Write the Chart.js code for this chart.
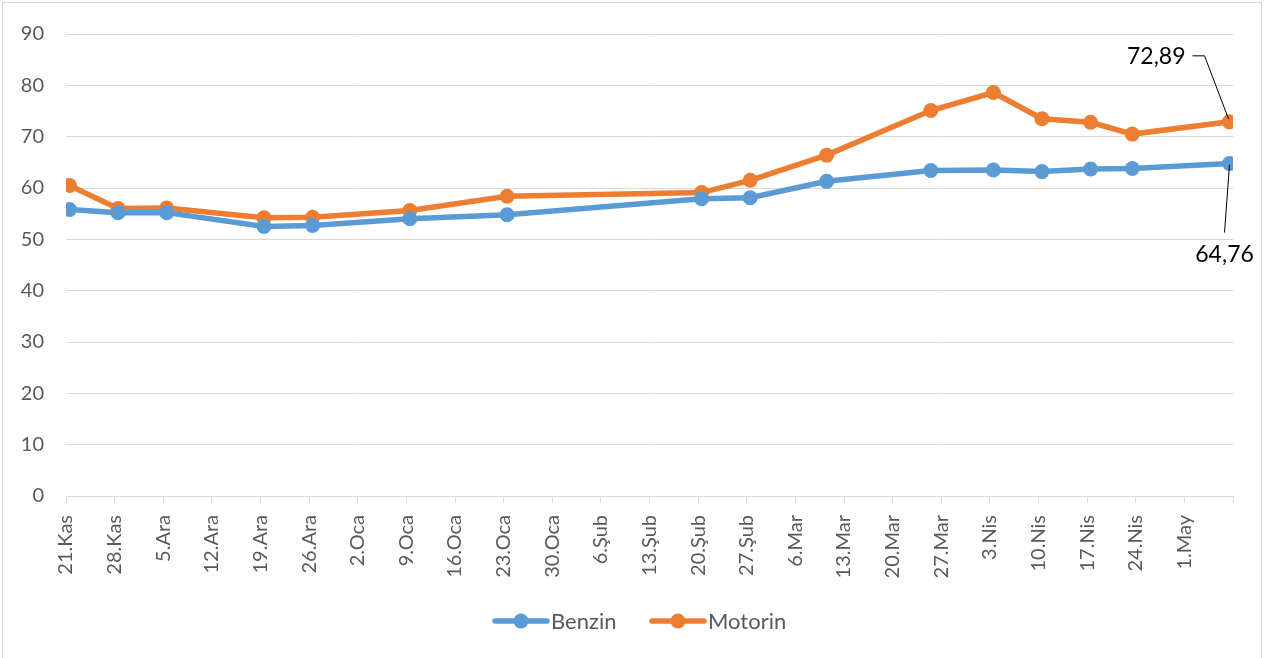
<!DOCTYPE html>
<html>
<head>
<meta charset="utf-8">
<script src="https://cdn.jsdelivr.net/npm/chart.js@4.4.1/dist/chart.umd.min.js"></script>
<style>
  html, body { margin: 0; padding: 0; background: #fff; }
  #wrap { position: relative; width: 1274px; height: 658px; }
  #frame { position: absolute; left: 2px; top: 2px; width: 1260px; height: 660px; border: 1px solid #d9d9d9; box-sizing: border-box; }
  canvas { position: absolute; left: 0; top: 0; }
</style>
</head>
<body>
<div id="wrap"><div id="frame"></div><canvas id="c" width="1274" height="658"></canvas></div>
<script>
// Week tick labels (every 7 days starting at 21.Kas = day 0)
const tickLabels = ["21.Kas","28.Kas","5.Ara","12.Ara","19.Ara","26.Ara","2.Oca","9.Oca","16.Oca","23.Oca","30.Oca","6.Şub","13.Şub","20.Şub","27.Şub","6.Mar","13.Mar","20.Mar","27.Mar","3.Nis","10.Nis","17.Nis","24.Nis","1.May"];
// Observation days (days since 21.Kas)
const days = [0, 7, 14, 28, 35, 49, 63, 91, 98, 109, 124, 133, 140, 147, 153, 167];
const benzin  = [55.8, 55.2, 55.2, 52.5, 52.7, 54.0, 54.8, 57.9, 58.1, 61.3, 63.4, 63.5, 63.2, 63.7, 63.8, 64.76];
const motorin = [60.5, 56.0, 56.1, 54.2, 54.3, 55.6, 58.4, 59.1, 61.5, 66.4, 75.1, 78.6, 73.5, 72.8, 70.5, 72.89];
const yTicks = [0, 10, 20, 30, 40, 50, 60, 70, 80, 90];

const BLUE = '#5b9bd5', ORANGE = '#ed7d31';
const FONT = 'Lato, "Open Sans", sans-serif';

function pts(vals) { return days.map((d, i) => ({ x: d + 0.5, y: vals[i] })); }

const annotPlugin = {
  id: 'annot',
  afterDatasetsDraw(chart) {
    const ctx = chart.ctx;
    const xs = chart.scales.x, ys = chart.scales.y;
    const last = days.length - 1;
    const px = xs.getPixelForValue(days[last] + 0.5);
    const pm = ys.getPixelForValue(motorin[last]);
    const pb = ys.getPixelForValue(benzin[last]);
    ctx.save();
    ctx.strokeStyle = '#000'; ctx.lineWidth = 1;
    ctx.beginPath();
    ctx.moveTo(px - 37, pm - 66); ctx.lineTo(px - 25, pm - 66); ctx.lineTo(px - 1, pm - 3);
    ctx.moveTo(px - 5, pb + 69); ctx.lineTo(px, pb + 1);
    ctx.stroke();
    ctx.fillStyle = '#000';
    ctx.font = '23px ' + FONT;
    ctx.textBaseline = 'middle';
    ctx.textAlign = 'right';
    ctx.fillText(motorin[last].toFixed(2).replace('.', ','), px - 44, pm - 65);
    ctx.textAlign = 'center';
    ctx.fillText(benzin[last].toFixed(2).replace('.', ','), px - 5, pb + 91);
    ctx.restore();
  }
};

// Legend drawn in the Excel style: line + dot, text right next to it
const legendPlugin = {
  id: 'xlLegend',
  afterDraw(chart) {
    const ctx = chart.ctx;
    const y = 621;
    const starts = [493, 650];
    ctx.save();
    ctx.font = '22px ' + FONT;
    ctx.textBaseline = 'middle';
    ctx.textAlign = 'left';
    chart.data.datasets.forEach((ds, i) => {
      const x0 = starts[i];
      ctx.strokeStyle = ds.borderColor; ctx.lineWidth = 5.5; ctx.lineCap = 'round';
      ctx.beginPath(); ctx.moveTo(x0 + 2, y); ctx.lineTo(x0 + 54, y); ctx.stroke();
      ctx.fillStyle = ds.borderColor;
      ctx.beginPath(); ctx.arc(x0 + 28, y, 7.5, 0, Math.PI * 2); ctx.fill();
      ctx.fillStyle = '#595959';
      ctx.fillText(ds.label, x0 + 58, y + 1);
    });
    ctx.restore();
  }
};

new Chart(document.getElementById('c'), {
  type: 'line',
  data: {
    datasets: [
      { label: 'Benzin', data: pts(benzin), borderColor: BLUE, backgroundColor: BLUE,
        borderWidth: 5.5, pointRadius: 7.5, pointHoverRadius: 7.5, pointBorderWidth: 0, tension: 0 },
      { label: 'Motorin', data: pts(motorin), borderColor: ORANGE, backgroundColor: ORANGE,
        borderWidth: 5.5, pointRadius: 7.5, pointHoverRadius: 7.5, pointBorderWidth: 0, tension: 0 }
    ]
  },
  options: {
    responsive: false,
    animation: false,
    layout: { padding: { left: 0, right: 41, top: 32, bottom: 0 } },
    plugins: {
      tooltip: { enabled: false },
      legend: { display: false }
    },
    scales: {
      x: {
        type: 'linear',
        min: 0, max: 168,
        afterBuildTicks(axis) { axis.ticks = []; for (let v = 0; v <= 168; v += 7) axis.ticks.push({ value: v }); },
        afterFit(axis) { axis.height = 162; },
        ticks: {
          autoSkip: false, maxRotation: 90, minRotation: 90,
          color: '#595959', font: { size: 20, family: FONT }, padding: 12,
          callback(v) { const i = Math.round(v / 7); return i < tickLabels.length ? tickLabels[i] : ''; }
        },
        grid: { display: true, drawOnChartArea: false, drawTicks: true, tickLength: 7, color: '#d9d9d9', lineWidth: 1 },
        border: { display: true, color: '#d9d9d9', width: 1 }
      },
      y: {
        min: 0, max: 90,
        afterBuildTicks(axis) { axis.ticks = yTicks.map(v => ({ value: v })); },
        afterFit(axis) { axis.width = 66; },
        ticks: { color: '#595959', font: { size: 20, family: FONT }, padding: 22 },
        grid: { color: '#d9d9d9', lineWidth: 1, drawTicks: false },
        border: { display: false }
      }
    }
  },
  plugins: [annotPlugin, legendPlugin]
});
</script>
</body>
</html>
